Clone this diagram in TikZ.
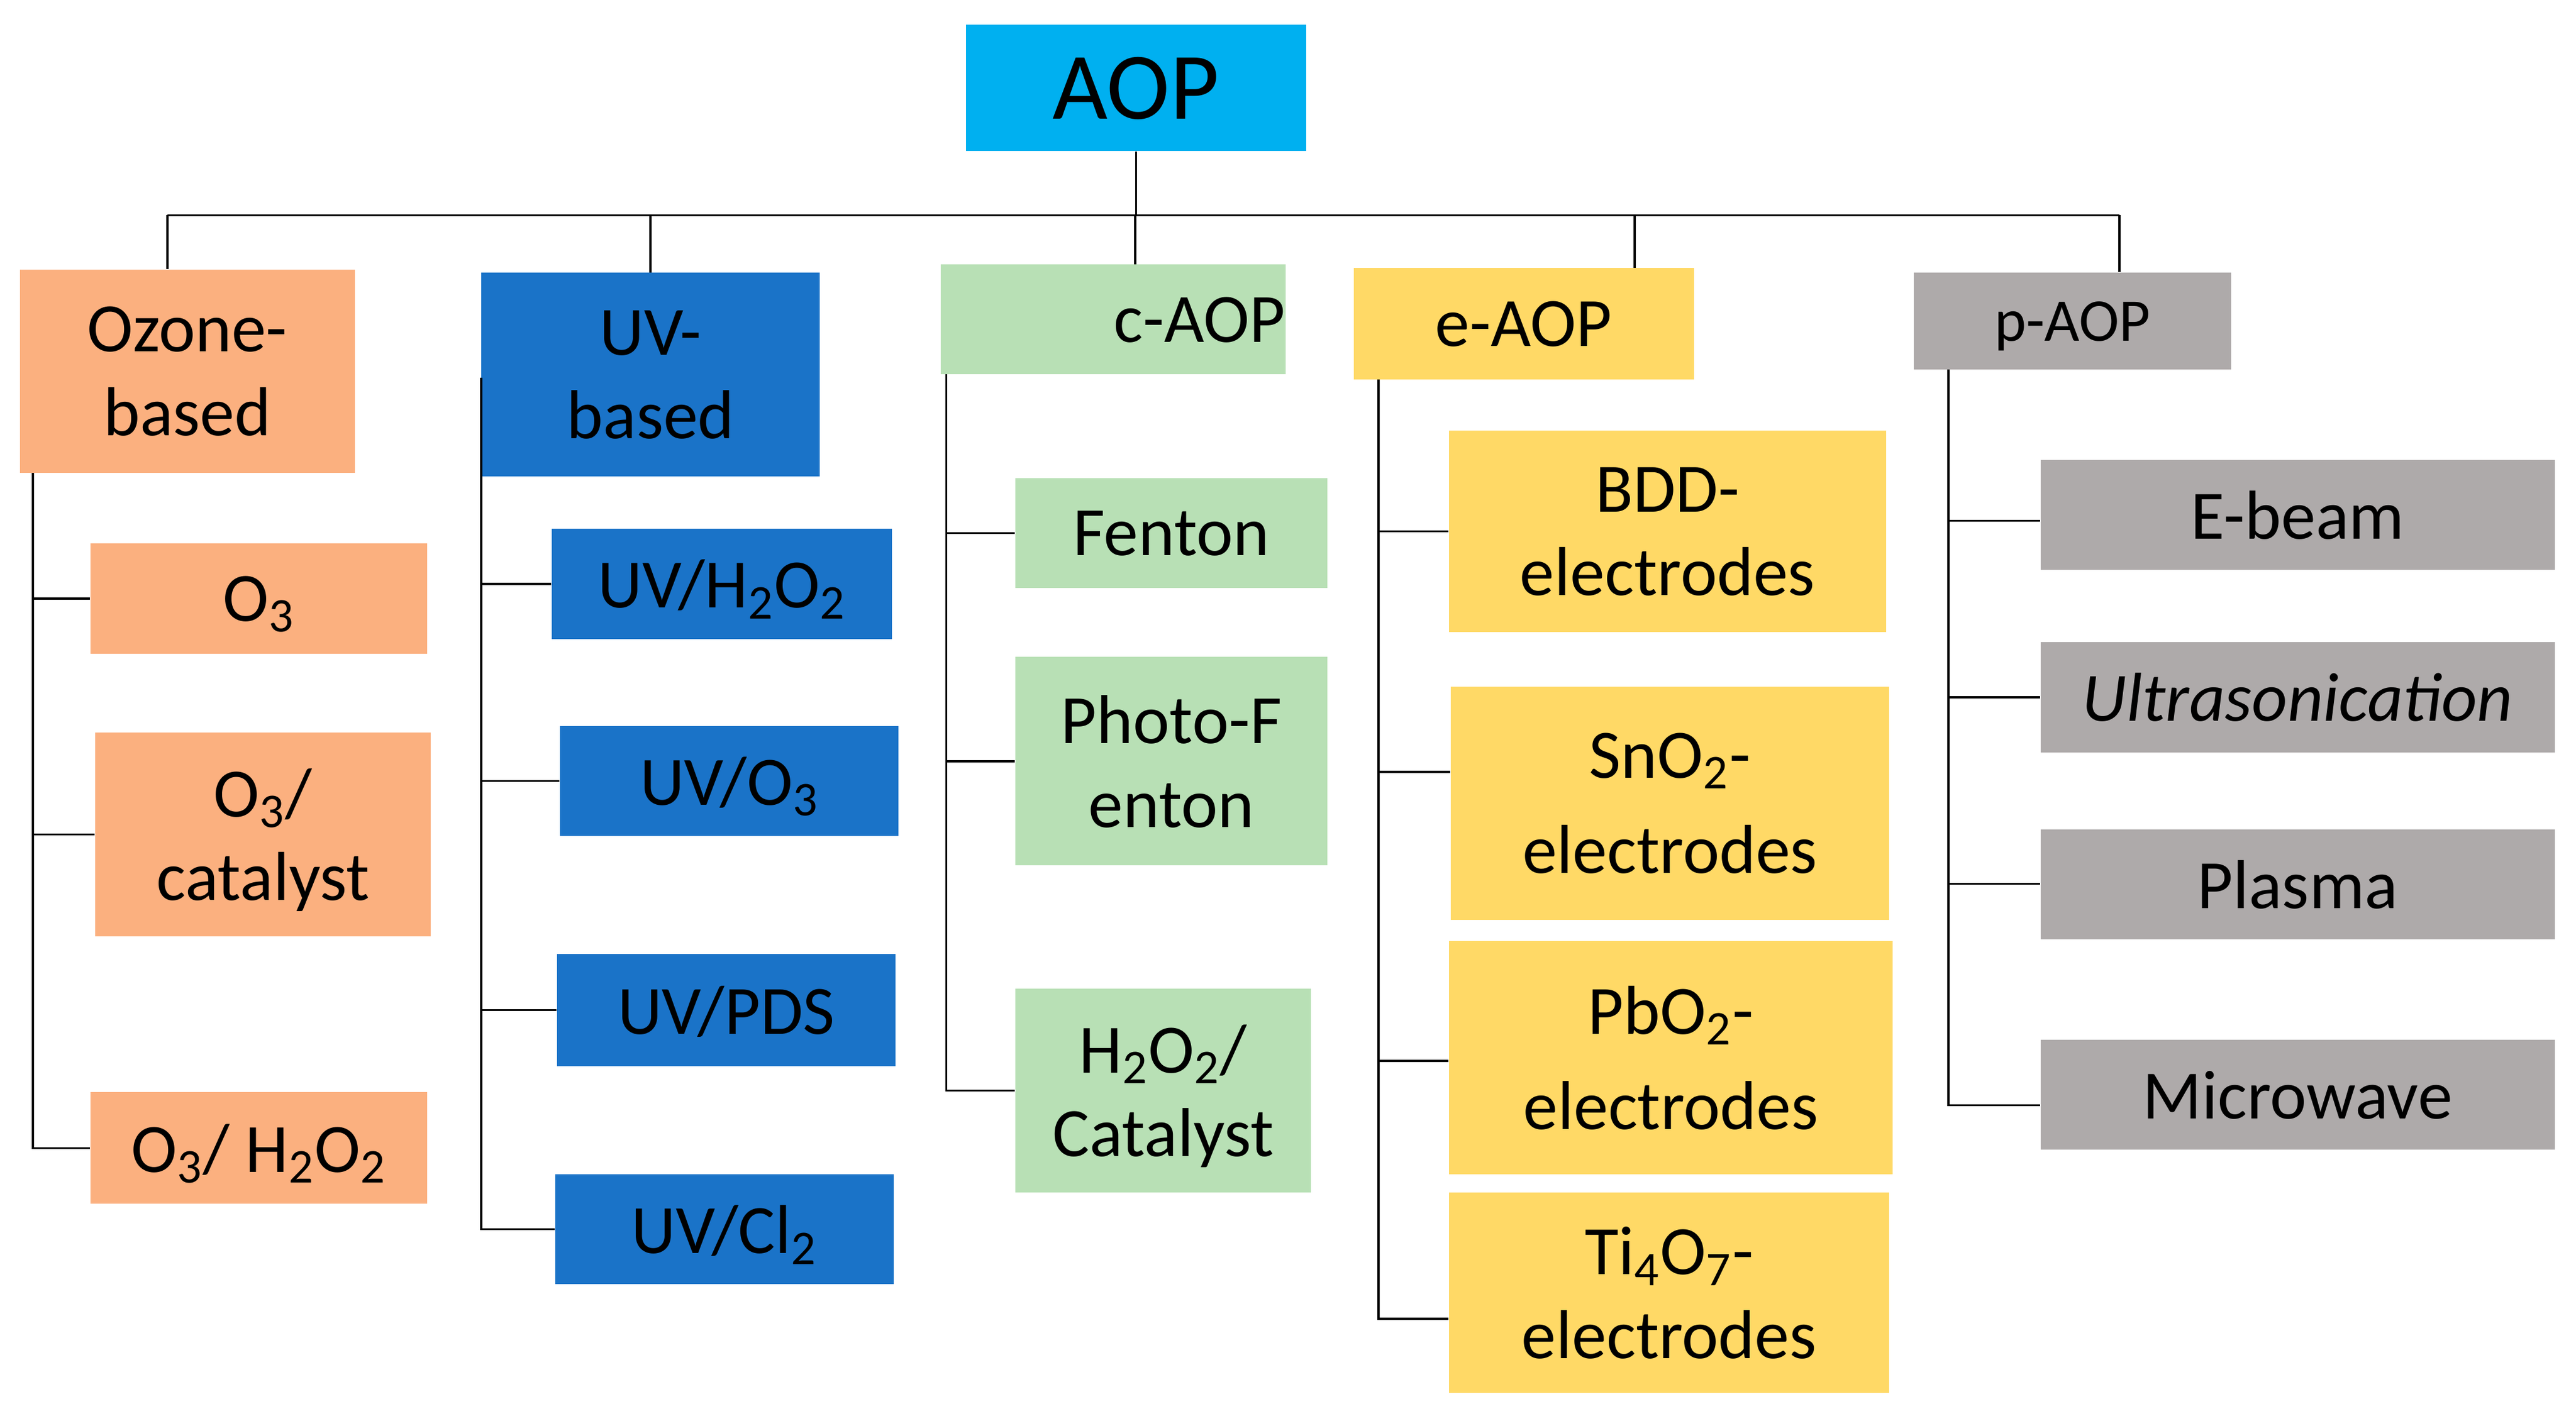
\documentclass[tikz,border=0pt]{standalone}
\usepackage{fontspec}
\setmainfont{Carlito}
\usepackage{fixltx2e}
\definecolor{aop}{HTML}{00B0F0}
\definecolor{oz}{HTML}{FBB07F}
\definecolor{uv}{HTML}{1A73C8}
\definecolor{ca}{HTML}{B8E0B5}
\definecolor{ea}{HTML}{FFD966}
\definecolor{pa}{HTML}{AEAAAA}
\newcommand\sub[1]{\textsubscript{#1}}
\newcommand\bx[7]{\node[box,fill=#6,minimum width={((#4)-(#2))*0.02cm},minimum height={((#5)-(#3))*0.02cm}] (#1) at ({((#2)+(#4))/2},{((#3)+(#5))/2}) {#7};}
\begin{document}
\begin{tikzpicture}[x=0.02cm,y=-0.02cm,
  box/.style={draw=none,inner sep=0pt,align=center,font=\fontsize{24}{29}\selectfont,text depth=0pt},
  ln/.style={draw=black,line width=0.7pt}]
\useasboundingbox (0,0) rectangle (1568,865);
\fill[white] (0,0) rectangle (1568,865);
\bx{aop}{588}{15}{795}{92}{aop}{\fontsize{33}{36}\selectfont AOP}
\bx{oz}{12}{164}{216}{288}{oz}{Ozone-\\based}
\bx{uv}{293}{166}{499}{290}{uv}{UV-\\based}
\bx{ca}{575}{161}{780}{228}{ca}{\hspace*{60pt}c-AOP}
\bx{ea}{824}{163}{1031}{231}{ea}{e-AOP}
\bx{pa}{1165}{166}{1358}{225}{pa}{\fontsize{21}{25}\selectfont p-AOP}
\bx{o1}{55}{331}{260}{398}{oz}{O\sub{3}}
\bx{o2}{58}{446}{262}{570}{oz}{O\sub{3}/\\catalyst}
\bx{o3}{55}{665}{260}{733}{oz}{O\sub{3}/ H\sub{2}O\sub{2}}
\bx{u1}{336}{322}{543}{389}{uv}{UV/H\sub{2}O\sub{2}}
\bx{u2}{341}{442}{547}{509}{uv}{UV/O\sub{3}}
\bx{u3}{339}{581}{545}{649}{uv}{UV/PDS}
\bx{u4}{338}{715}{544}{782}{uv}{UV/Cl\sub{2}}
\bx{c1}{618}{291}{808}{358}{ca}{Fenton}
\bx{c2}{618}{400}{808}{527}{ca}{Photo-F\\enton}
\bx{c3}{618}{602}{798}{726}{ca}{H\sub{2}O\sub{2}/\\Catalyst}
\bx{e1}{882}{262}{1148}{385}{ea}{BDD-\\electrodes}
\bx{e2}{883}{418}{1150}{560}{ea}{SnO\sub{2}-\\[4pt]electrodes}
\bx{e3}{882}{573}{1152}{715}{ea}{PbO\sub{2}-\\[4pt]electrodes}
\bx{e4}{882}{726}{1150}{848}{ea}{Ti\sub{4}O\sub{7}-\\electrodes}
\bx{p1}{1242}{280}{1555}{347}{pa}{E-beam}
\bx{p2}{1242}{391}{1555}{458}{pa}{\itshape Ultrasonication}
\bx{p3}{1242}{505}{1555}{572}{pa}{Plasma}
\bx{p4}{1242}{633}{1555}{700}{pa}{Microwave}
% bus
\coordinate (bl) at (102,131); \coordinate (br) at (1290,131);
\draw[ln] (bl) -- (br);
\draw[ln] (aop.south) -- (aop.south |- bl);
\draw[ln] (oz.north -| bl) -- (bl);
\draw[ln] (396,131) -- (396,166);
\draw[ln] (691,131) -- (691,161);
\draw[ln] (995,131) -- (995,163);
\draw[ln] (br) -- (br |- pa.north);
% spines
\coordinate (s1) at (20,288); \coordinate (s2) at (293,230);
\coordinate (s3) at (576,228); \coordinate (s4) at (839,231); \coordinate (s5) at (1186,225);
\draw[ln] (s1) -- (s1 |- o3.west) -- (o3.west);
\draw[ln] (o1.west) -- (o1.west -| s1);
\draw[ln] (o2.west) -- (o2.west -| s1);
\draw[ln] (s2) -- (s2 |- u4.west) -- (u4.west);
\draw[ln] (u1.west) -- (u1.west -| s2);
\draw[ln] (u2.west) -- (u2.west -| s2);
\draw[ln] (u3.west) -- (u3.west -| s2);
\draw[ln] (s3) -- (s3 |- c3.west) -- (c3.west);
\draw[ln] (c1.west) -- (c1.west -| s3);
\draw[ln] (c2.west) -- (c2.west -| s3);
\draw[ln] (s4) -- (s4 |- 0,803) -- (e4.west |- 0,803);
\draw[ln] (e1.west) -- (e1.west -| s4);
\draw[ln] (e2.west |- 0,470) -- (s4 |- 0,470);
\draw[ln] (e3.west |- 0,646) -- (s4 |- 0,646);
\draw[ln] (s5) -- (s5 |- 0,673) -- (p4.west |- 0,673);
\draw[ln] (p1.west |- 0,317) -- (s5 |- 0,317);
\draw[ln] (p2.west) -- (p2.west -| s5);
\draw[ln] (p3.west |- 0,538) -- (s5 |- 0,538);
\end{tikzpicture}
\end{document}
